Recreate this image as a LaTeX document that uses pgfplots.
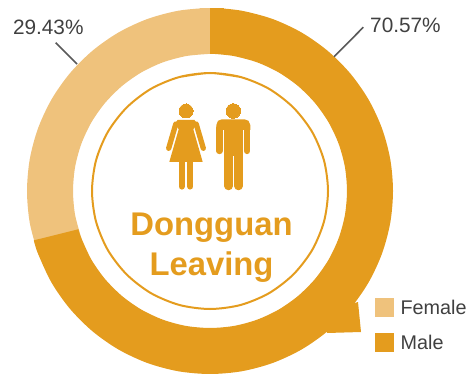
\documentclass[border=0pt]{standalone}
\usepackage{pgfplots}
\pgfplotsset{compat=1.18}
\usepackage{fontspec}
\setmainfont{Liberation Sans}
\definecolor{male}{HTML}{E49C1E}
\definecolor{female}{HTML}{EFC27C}
\definecolor{lead}{HTML}{595959}
\definecolor{txt}{HTML}{404040}
\begin{document}
\begin{tikzpicture}
\useasboundingbox (0,0) rectangle (468pt,374pt);
\begin{axis}[at={(0,0)},anchor=south west,x=1pt,y=1pt,xmin=0,xmax=468,ymin=0,ymax=374,y dir=reverse,hide axis,
  every axis plot/.append style={forget plot},clip=true]
% Female 29.43% ring
\addplot[female,line width=46pt,smooth,no markers] coordinates {
(59.6,245.7)(52.4,218.8)(50,191)(52.4,163.2)(59.6,136.3)(71.4,111)(87.4,88.2)(107.2,68.4)(130,52.4)(155.3,40.6)(182.2,33.4)(207,31)};
% Male 70.57% ring
\addplot[male,line width=46pt,smooth,no markers] coordinates {
(216,31)(237.8,33.4)(264.7,40.6)(290,52.4)(312.8,68.4)(332.6,88.2)(348.6,111)(360.4,136.3)(367.6,163.2)(370,191)
(367.6,218.8)(360.4,245.7)(348.6,271)(332.6,293.8)(312.8,313.6)(290,329.6)(264.7,341.4)(237.8,348.6)(210,351)
(182.2,348.6)(155.3,341.4)(130,329.6)(107.2,313.6)(87.4,293.8)(71.4,271)(59.6,245.7)(56.1,234.8)};
\addplot[female,line width=46pt,no markers] coordinates {(200,31)(210,31)};
\addplot[male,line width=46pt,no markers] coordinates {(210,31)(224,31)};
% tail
\addplot[fill=male,draw=none] coordinates {(358,302)(361,332)(327,333)(330,310)} --cycle;
% inner circle
\addplot[male,line width=2pt,smooth,no markers] coordinates {
(179.5,77)(210,73)(240.5,77)(269,88.8)(293.4,107.6)(312.2,132)(324,160.5)(328,191)(324,221.5)(312.2,250)(293.4,274.4)(269,293.2)(240.5,305)(210,309)(179.5,305)(151,293.2)(126.6,274.4)(107.8,250)(96,221.5)(92,191)(96,160.5)(107.8,132)(126.6,107.6)(151,88.8)(179.5,77)(210,73)(240.5,77)};
% leaders
\addplot[lead,line width=1.6pt,no markers] coordinates {(55.7,42.7)(77,64)};
\addplot[lead,line width=1.6pt,no markers] coordinates {(363.3,27.3)(334,56.7)};
% woman
\addplot[only marks,mark=*,mark size=7pt,mark options={draw=male,fill=male,line width=0pt}] coordinates {(186,111)};
\addplot[male,line width=5.3pt,line cap=round,no markers] coordinates {(175.8,124)(168.7,148.3)};
\addplot[male,line width=5.3pt,line cap=round,no markers] coordinates {(196.2,124)(203.3,148.3)};
\addplot[fill=male,draw=none] coordinates {(177.5,120)(194.5,120)(197,124)(193.3,129.3)(202.7,162)(169.3,162)(178.7,129.3)(175,124)} --cycle;
\addplot[male,line width=6.2pt,line cap=round,no markers] coordinates {(181.7,160)(181.7,186.5)};
\addplot[male,line width=6.2pt,line cap=round,no markers] coordinates {(190.3,160)(190.3,186.5)};
% man
\addplot[only marks,mark=*,mark size=7.3pt,mark options={draw=male,fill=male,line width=0pt}] coordinates {(233.3,111)};
\addplot[fill=male,draw=none] coordinates {(222,119.3)(244.5,119.3)(248.5,120.8)(250.3,125)(250.3,130)(216.3,130)(216.3,125)(218,120.8)} --cycle;
\addplot[male,line width=6.3pt,line cap=round,no markers] coordinates {(219.5,128)(219.5,151)};
\addplot[male,line width=6.3pt,line cap=round,no markers] coordinates {(247.1,128)(247.1,151)};
\addplot[fill=male,draw=none] coordinates {(224.3,125)(242.7,125)(242.7,156)(224.3,156)} --cycle;
\addplot[male,line width=8.5pt,line cap=round,no markers] coordinates {(228.6,154)(228.6,186)};
\addplot[male,line width=8.5pt,line cap=round,no markers] coordinates {(238.5,154)(238.5,186)};
% legend swatches
\addplot[fill=female,draw=none] coordinates {(375,298)(394,298)(394,317)(375,317)} --cycle;
\addplot[fill=male,draw=none] coordinates {(375,333)(394,333)(394,352)(375,352)} --cycle;
% text
\node[text=txt,font=\fontsize{20.8}{24}\selectfont,anchor=base west,inner sep=0pt] at (axis cs:12.8,35) {29.43\%};
\node[text=txt,font=\fontsize{20.8}{24}\selectfont,anchor=base west,inner sep=0pt] at (axis cs:370,32.7) {70.57\%};
\node[text=txt,font=\fontsize{19.8}{24}\selectfont,anchor=base west,inner sep=0pt] at (axis cs:400.4,314.3) {Female};
\node[text=txt,font=\fontsize{19.8}{24}\selectfont,anchor=base west,inner sep=0pt] at (axis cs:400.4,349.3) {Male};
\node[text=male,font=\bfseries\fontsize{32.8}{38}\selectfont,anchor=base,inner sep=0pt] at (axis cs:211.5,235.7) {Dongguan};
\node[text=male,font=\bfseries\fontsize{32.8}{38}\selectfont,anchor=base,inner sep=0pt] at (axis cs:211.5,275) {Leaving};
\end{axis}
\end{tikzpicture}
\end{document}
